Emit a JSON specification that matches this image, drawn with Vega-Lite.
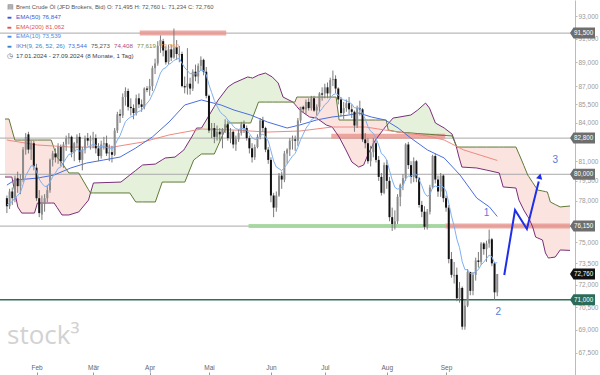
{
"$schema":"https://vega.github.io/schema/vega-lite/v6.json",
"width":575,"height":375,
"autosize":{"type":"none"},
"padding":{"left":0,"top":0,"right":25,"bottom":0},
"background":"white",
"config":{"view":{"stroke":null},"font":"Liberation Sans","axis":{"grid":false}},
"datasets":{
"candles":[
{"i":0,"o":78.2,"h":78.4,"l":77.1,"c":77.6,"e":77.68},
{"i":1,"o":77.6,"h":78.9,"l":77.4,"c":78.7,"e":77.87},
{"i":2,"o":78.7,"h":79.0,"l":77.7,"c":78.2,"e":77.93},
{"i":3,"o":78.1,"h":79.9,"l":77.9,"c":79.7,"e":78.25},
{"i":4,"o":79.7,"h":80.2,"l":78.6,"c":79.1,"e":78.40},
{"i":5,"o":79.1,"h":80.0,"l":78.5,"c":79.6,"e":78.62},
{"i":6,"o":79.6,"h":82.1,"l":79.4,"c":81.9,"e":79.22},
{"i":7,"o":81.9,"h":83.2,"l":81.5,"c":82.9,"e":79.89},
{"i":8,"o":83.1,"h":83.3,"l":81.6,"c":81.9,"e":80.26},
{"i":9,"o":81.9,"h":82.6,"l":81.1,"c":82.4,"e":80.65},
{"i":10,"o":82.4,"h":82.6,"l":80.3,"c":80.6,"e":80.64},
{"i":11,"o":80.5,"h":80.8,"l":78.0,"c":78.2,"e":80.20},
{"i":12,"o":78.2,"h":78.8,"l":76.8,"c":77.1,"e":79.64},
{"i":13,"o":77.0,"h":78.4,"l":76.6,"c":77.8,"e":79.30},
{"i":14,"o":77.8,"h":78.5,"l":77.2,"c":78.2,"e":79.10},
{"i":15,"o":78.2,"h":79.2,"l":77.9,"c":78.8,"e":79.05},
{"i":16,"o":78.8,"h":81.2,"l":78.6,"c":81.1,"e":79.42},
{"i":17,"o":81.1,"h":81.8,"l":80.6,"c":81.6,"e":79.82},
{"i":18,"o":81.6,"h":82.0,"l":80.9,"c":81.3,"e":80.09},
{"i":19,"o":81.3,"h":82.4,"l":80.8,"c":82.1,"e":80.45},
{"i":20,"o":82.1,"h":82.3,"l":80.6,"c":81.0,"e":80.55},
{"i":21,"o":81.0,"h":82.5,"l":80.5,"c":82.3,"e":80.87},
{"i":22,"o":82.3,"h":83.0,"l":81.8,"c":82.8,"e":81.22},
{"i":23,"o":82.8,"h":83.2,"l":82.3,"c":82.9,"e":81.53},
{"i":24,"o":82.9,"h":83.0,"l":81.3,"c":81.7,"e":81.56},
{"i":25,"o":81.7,"h":82.5,"l":81.0,"c":82.4,"e":81.71},
{"i":26,"o":82.4,"h":83.1,"l":82.0,"c":82.9,"e":81.93},
{"i":27,"o":82.9,"h":83.2,"l":80.9,"c":81.1,"e":81.78},
{"i":28,"o":81.1,"h":82.1,"l":80.3,"c":81.9,"e":81.80},
{"i":29,"o":81.9,"h":83.0,"l":81.6,"c":82.8,"e":81.98},
{"i":30,"o":82.8,"h":83.2,"l":82.2,"c":82.6,"e":82.09},
{"i":31,"o":82.6,"h":83.0,"l":81.9,"c":82.7,"e":82.20},
{"i":32,"o":82.7,"h":83.3,"l":82.0,"c":82.8,"e":82.31},
{"i":33,"o":82.8,"h":83.1,"l":81.6,"c":82.0,"e":82.25},
{"i":34,"o":82.0,"h":82.4,"l":81.0,"c":81.4,"e":82.10},
{"i":35,"o":81.4,"h":82.6,"l":81.2,"c":82.3,"e":82.14},
{"i":36,"o":82.3,"h":82.9,"l":81.9,"c":82.4,"e":82.19},
{"i":37,"o":82.4,"h":83.0,"l":81.4,"c":81.6,"e":82.08},
{"i":38,"o":81.6,"h":82.3,"l":81.0,"c":81.7,"e":82.01},
{"i":39,"o":81.7,"h":82.2,"l":80.9,"c":81.5,"e":81.92},
{"i":40,"o":81.5,"h":83.6,"l":81.4,"c":83.4,"e":82.19},
{"i":41,"o":83.4,"h":84.9,"l":83.2,"c":84.7,"e":82.65},
{"i":42,"o":84.7,"h":85.1,"l":84.0,"c":84.6,"e":83.00},
{"i":43,"o":84.6,"h":86.4,"l":84.4,"c":86.1,"e":83.56},
{"i":44,"o":86.1,"h":86.9,"l":85.4,"c":86.6,"e":84.11},
{"i":45,"o":86.6,"h":86.8,"l":85.0,"c":85.3,"e":84.33},
{"i":46,"o":85.3,"h":86.0,"l":84.6,"c":85.2,"e":84.49},
{"i":47,"o":85.2,"h":85.5,"l":84.3,"c":84.8,"e":84.55},
{"i":48,"o":84.8,"h":86.3,"l":84.6,"c":86.0,"e":84.81},
{"i":49,"o":86.0,"h":86.4,"l":85.2,"c":85.5,"e":84.94},
{"i":50,"o":85.5,"h":85.9,"l":84.9,"c":85.3,"e":85.01},
{"i":51,"o":85.3,"h":86.9,"l":85.1,"c":86.8,"e":85.34},
{"i":52,"o":86.8,"h":87.0,"l":86.5,"c":86.7,"e":85.59},
{"i":53,"o":86.7,"h":87.6,"l":86.2,"c":87.0,"e":85.85},
{"i":54,"o":87.0,"h":88.7,"l":86.6,"c":88.5,"e":86.33},
{"i":55,"o":88.5,"h":89.3,"l":88.0,"c":88.9,"e":86.80},
{"i":56,"o":88.9,"h":90.8,"l":88.7,"c":90.4,"e":87.46},
{"i":57,"o":90.4,"h":91.3,"l":89.8,"c":90.9,"e":88.09},
{"i":58,"o":90.8,"h":91.0,"l":89.5,"c":90.0,"e":88.44},
{"i":59,"o":90.0,"h":90.4,"l":88.8,"c":89.0,"e":88.54},
{"i":60,"o":89.0,"h":90.5,"l":88.8,"c":90.1,"e":88.82},
{"i":61,"o":90.1,"h":90.5,"l":89.1,"c":89.4,"e":88.93},
{"i":62,"o":89.4,"h":91.9,"l":89.3,"c":90.2,"e":89.16},
{"i":63,"o":90.3,"h":90.9,"l":89.2,"c":89.7,"e":89.26},
{"i":64,"o":89.6,"h":90.4,"l":89.0,"c":89.7,"e":89.34},
{"i":65,"o":89.7,"h":89.9,"l":86.9,"c":87.0,"e":88.91},
{"i":66,"o":87.0,"h":87.8,"l":86.4,"c":86.9,"e":88.54},
{"i":67,"o":86.9,"h":90.2,"l":86.3,"c":87.2,"e":88.30},
{"i":68,"o":87.2,"h":87.7,"l":86.3,"c":86.8,"e":88.03},
{"i":69,"o":86.8,"h":88.4,"l":86.6,"c":88.2,"e":88.06},
{"i":70,"o":88.2,"h":88.8,"l":87.4,"c":87.8,"e":88.01},
{"i":71,"o":87.8,"h":88.9,"l":87.2,"c":88.7,"e":88.14},
{"i":72,"o":88.7,"h":89.5,"l":88.3,"c":89.2,"e":88.33},
{"i":73,"o":89.2,"h":89.3,"l":87.9,"c":88.2,"e":88.31},
{"i":74,"o":88.2,"h":88.6,"l":86.0,"c":86.2,"e":87.93},
{"i":75,"o":86.2,"h":86.3,"l":83.2,"c":83.4,"e":87.11},
{"i":76,"o":83.4,"h":84.0,"l":82.8,"c":83.6,"e":86.47},
{"i":77,"o":83.6,"h":84.0,"l":82.4,"c":82.9,"e":85.82},
{"i":78,"o":82.9,"h":83.8,"l":82.6,"c":83.3,"e":85.36},
{"i":79,"o":83.3,"h":83.6,"l":82.6,"c":83.1,"e":84.95},
{"i":80,"o":83.1,"h":83.6,"l":82.0,"c":83.5,"e":84.69},
{"i":81,"o":83.5,"h":84.3,"l":83.2,"c":83.9,"e":84.55},
{"i":82,"o":83.9,"h":84.2,"l":82.6,"c":82.8,"e":84.23},
{"i":83,"o":82.8,"h":83.6,"l":82.4,"c":83.3,"e":84.06},
{"i":84,"o":83.3,"h":83.4,"l":82.0,"c":82.3,"e":83.74},
{"i":85,"o":82.3,"h":83.0,"l":81.8,"c":82.7,"e":83.55},
{"i":86,"o":82.7,"h":83.5,"l":82.5,"c":83.2,"e":83.49},
{"i":87,"o":83.2,"h":84.1,"l":83.0,"c":83.9,"e":83.56},
{"i":88,"o":83.9,"h":84.2,"l":83.2,"c":83.6,"e":83.57},
{"i":89,"o":83.6,"h":83.8,"l":82.6,"c":82.8,"e":83.43},
{"i":90,"o":82.8,"h":83.0,"l":81.6,"c":82.0,"e":83.17},
{"i":91,"o":82.0,"h":82.4,"l":80.9,"c":81.3,"e":82.83},
{"i":92,"o":81.3,"h":82.3,"l":81.1,"c":82.1,"e":82.70},
{"i":93,"o":82.1,"h":83.1,"l":82.0,"c":82.9,"e":82.74},
{"i":94,"o":82.9,"h":84.4,"l":82.7,"c":84.2,"e":83.01},
{"i":95,"o":84.2,"h":84.5,"l":83.3,"c":83.6,"e":83.12},
{"i":96,"o":83.6,"h":83.7,"l":81.7,"c":81.9,"e":82.90},
{"i":97,"o":81.9,"h":82.1,"l":80.8,"c":81.1,"e":82.57},
{"i":98,"o":81.1,"h":81.3,"l":77.9,"c":78.4,"e":81.81},
{"i":99,"o":78.4,"h":78.6,"l":76.8,"c":77.5,"e":81.03},
{"i":100,"o":77.5,"h":78.7,"l":77.2,"c":78.4,"e":80.55},
{"i":101,"o":78.4,"h":80.1,"l":78.3,"c":79.9,"e":80.43},
{"i":102,"o":79.9,"h":80.2,"l":78.9,"c":79.6,"e":80.28},
{"i":103,"o":79.6,"h":81.8,"l":79.4,"c":81.6,"e":80.52},
{"i":104,"o":81.6,"h":82.0,"l":80.8,"c":81.9,"e":80.77},
{"i":105,"o":81.9,"h":82.8,"l":81.4,"c":82.6,"e":81.10},
{"i":106,"o":82.6,"h":83.0,"l":81.9,"c":82.7,"e":81.39},
{"i":107,"o":82.7,"h":83.0,"l":81.8,"c":82.6,"e":81.61},
{"i":108,"o":82.6,"h":84.4,"l":82.2,"c":84.2,"e":82.08},
{"i":109,"o":84.2,"h":85.3,"l":84.0,"c":85.3,"e":82.67},
{"i":110,"o":85.3,"h":85.4,"l":84.8,"c":85.1,"e":83.11},
{"i":111,"o":85.1,"h":85.9,"l":84.7,"c":85.7,"e":83.58},
{"i":112,"o":85.7,"h":86.0,"l":85.0,"c":85.2,"e":83.87},
{"i":113,"o":85.2,"h":86.2,"l":85.0,"c":86.0,"e":84.26},
{"i":114,"o":86.0,"h":86.2,"l":84.9,"c":85.0,"e":84.39},
{"i":115,"o":85.0,"h":85.5,"l":84.6,"c":85.3,"e":84.56},
{"i":116,"o":85.3,"h":86.5,"l":84.9,"c":86.4,"e":84.89},
{"i":117,"o":86.4,"h":86.9,"l":85.8,"c":86.3,"e":85.16},
{"i":118,"o":86.4,"h":87.2,"l":86.0,"c":86.9,"e":85.48},
{"i":119,"o":86.9,"h":87.3,"l":86.0,"c":86.4,"e":85.65},
{"i":120,"o":86.4,"h":87.7,"l":86.0,"c":87.5,"e":85.99},
{"i":121,"o":87.5,"h":88.3,"l":87.0,"c":87.6,"e":86.28},
{"i":122,"o":87.6,"h":87.9,"l":86.4,"c":86.8,"e":86.37},
{"i":123,"o":86.8,"h":86.9,"l":85.5,"c":85.9,"e":86.28},
{"i":124,"o":85.9,"h":86.1,"l":84.5,"c":84.8,"e":86.01},
{"i":125,"o":84.8,"h":85.7,"l":84.3,"c":85.2,"e":85.86},
{"i":126,"o":85.2,"h":85.9,"l":84.9,"c":85.6,"e":85.81},
{"i":127,"o":85.6,"h":86.1,"l":84.7,"c":85.1,"e":85.68},
{"i":128,"o":85.1,"h":85.5,"l":84.4,"c":84.9,"e":85.54},
{"i":129,"o":84.9,"h":85.0,"l":83.3,"c":83.8,"e":85.22},
{"i":130,"o":83.8,"h":85.4,"l":83.6,"c":85.2,"e":85.22},
{"i":131,"o":85.2,"h":85.8,"l":84.6,"c":85.1,"e":85.20},
{"i":132,"o":85.1,"h":85.2,"l":82.5,"c":82.7,"e":84.75},
{"i":133,"o":82.7,"h":83.2,"l":82.0,"c":82.4,"e":84.32},
{"i":134,"o":82.4,"h":82.8,"l":80.8,"c":81.0,"e":83.72},
{"i":135,"o":81.0,"h":82.2,"l":80.6,"c":81.7,"e":83.35},
{"i":136,"o":81.7,"h":82.8,"l":81.3,"c":82.4,"e":83.18},
{"i":137,"o":82.4,"h":82.6,"l":80.9,"c":81.1,"e":82.80},
{"i":138,"o":81.1,"h":81.4,"l":79.5,"c":79.8,"e":82.25},
{"i":139,"o":79.8,"h":80.1,"l":78.4,"c":78.6,"e":81.59},
{"i":140,"o":78.6,"h":80.9,"l":78.5,"c":80.7,"e":81.43},
{"i":141,"o":80.7,"h":81.1,"l":78.9,"c":79.5,"e":81.08},
{"i":142,"o":79.5,"h":79.8,"l":76.5,"c":76.8,"e":80.30},
{"i":143,"o":76.8,"h":77.5,"l":75.8,"c":76.3,"e":79.57},
{"i":144,"o":76.3,"h":77.3,"l":75.9,"c":76.5,"e":79.01},
{"i":145,"o":76.5,"h":78.5,"l":76.3,"c":78.3,"e":78.88},
{"i":146,"o":78.3,"h":79.3,"l":77.6,"c":79.2,"e":78.94},
{"i":147,"o":79.2,"h":80.0,"l":78.8,"c":79.7,"e":79.08},
{"i":148,"o":79.7,"h":82.4,"l":79.5,"c":82.3,"e":79.67},
{"i":149,"o":82.3,"h":82.5,"l":80.4,"c":80.7,"e":79.86},
{"i":150,"o":80.7,"h":81.0,"l":79.3,"c":79.8,"e":79.85},
{"i":151,"o":79.8,"h":81.3,"l":79.4,"c":81.0,"e":80.06},
{"i":152,"o":81.0,"h":81.1,"l":79.4,"c":79.7,"e":79.99},
{"i":153,"o":79.7,"h":79.8,"l":77.5,"c":77.7,"e":79.57},
{"i":154,"o":77.7,"h":78.0,"l":76.8,"c":77.2,"e":79.14},
{"i":155,"o":77.2,"h":77.6,"l":75.9,"c":76.1,"e":78.59},
{"i":156,"o":76.1,"h":77.4,"l":75.9,"c":77.2,"e":78.34},
{"i":157,"o":77.2,"h":79.2,"l":77.0,"c":79.0,"e":78.46},
{"i":158,"o":79.0,"h":81.5,"l":78.9,"c":81.4,"e":79.00},
{"i":159,"o":81.4,"h":81.6,"l":79.3,"c":79.6,"e":79.11},
{"i":160,"o":79.6,"h":79.9,"l":78.3,"c":78.7,"e":79.04},
{"i":161,"o":78.7,"h":80.1,"l":78.3,"c":79.9,"e":79.20},
{"i":162,"o":79.9,"h":80.0,"l":77.9,"c":78.2,"e":79.02},
{"i":163,"o":78.2,"h":78.4,"l":77.2,"c":77.5,"e":78.74},
{"i":164,"o":77.5,"h":77.7,"l":73.5,"c":73.8,"e":77.84},
{"i":165,"o":73.8,"h":74.3,"l":72.5,"c":72.7,"e":76.90},
{"i":166,"o":72.6,"h":73.6,"l":72.1,"c":72.7,"e":76.14},
{"i":167,"o":72.7,"h":73.2,"l":70.9,"c":71.1,"e":75.22},
{"i":168,"o":71.1,"h":72.2,"l":70.8,"c":71.8,"e":74.60},
{"i":169,"o":71.8,"h":71.9,"l":69.0,"c":69.2,"e":73.62},
{"i":170,"o":69.2,"h":71.0,"l":69.0,"c":70.6,"e":73.07},
{"i":171,"o":70.6,"h":73.1,"l":70.5,"c":72.9,"e":73.04},
{"i":172,"o":72.9,"h":72.9,"l":71.3,"c":71.6,"e":72.78},
{"i":173,"o":71.6,"h":72.9,"l":71.3,"c":72.7,"e":72.77},
{"i":174,"o":72.7,"h":73.9,"l":72.3,"c":73.7,"e":72.94},
{"i":175,"o":73.7,"h":74.3,"l":73.2,"c":73.6,"e":73.06},
{"i":176,"o":73.6,"h":75.0,"l":73.4,"c":74.9,"e":73.39},
{"i":177,"o":74.9,"h":75.0,"l":74.1,"c":74.5,"e":73.59},
{"i":178,"o":74.5,"h":75.1,"l":73.6,"c":74.9,"e":73.83},
{"i":179,"o":74.9,"h":75.9,"l":74.6,"c":75.2,"e":74.08},
{"i":180,"o":75.2,"h":75.3,"l":73.3,"c":73.5,"e":73.97},
{"i":181,"o":73.5,"h":73.6,"l":71.0,"c":71.5,"e":73.52},
{"i":182,"o":71.495,"h":72.76,"l":71.234,"c":72.76,"e":73.54}
],
"cloud":[
{"i":-0.7,"a":79.79,"b":84.32,"s":"r1","k":"r"},
{"i":0.76,"a":79.79,"b":84.32,"s":"r1","k":"r"},
{"i":1.85,"a":79.79,"b":83.48,"s":"r1","k":"r"},
{"i":2.95,"a":78.66,"b":82.65,"s":"r1","k":"r"},
{"i":4.04,"a":77.55,"b":82.65,"s":"r1","k":"r"},
{"i":5.5,"a":77.10,"b":82.65,"s":"r1","k":"r"},
{"i":10.24,"a":77.10,"b":82.65,"s":"r1","k":"r"},
{"i":11.34,"a":77.84,"b":82.65,"s":"r1","k":"r"},
{"i":16.44,"a":77.84,"b":82.65,"s":"r1","k":"r"},
{"i":17.54,"a":77.84,"b":81.99,"s":"r1","k":"r"},
{"i":18.63,"a":77.51,"b":81.32,"s":"r1","k":"r"},
{"i":20.45,"a":76.96,"b":80.86,"s":"r1","k":"r"},
{"i":23.0,"a":76.96,"b":80.10,"s":"r1","k":"r"},
{"i":26.65,"a":77.18,"b":80.10,"s":"r1","k":"r"},
{"i":30.3,"a":78.06,"b":78.83,"s":"r1","k":"r"},
{"i":31.03,"a":78.59,"b":78.59,"s":"r1","k":"r"},
{"i":31.03,"a":78.59,"b":78.59,"s":"g1","k":"g"},
{"i":32.12,"a":79.34,"b":78.59,"s":"g1","k":"g"},
{"i":42.33,"a":79.41,"b":78.59,"s":"g1","k":"g"},
{"i":45.62,"a":79.94,"b":78.59,"s":"g1","k":"g"},
{"i":47.8,"a":80.29,"b":77.92,"s":"g1","k":"g"},
{"i":50.36,"a":80.71,"b":77.92,"s":"g1","k":"g"},
{"i":55.1,"a":80.78,"b":77.92,"s":"g1","k":"g"},
{"i":57.65,"a":81.11,"b":79.41,"s":"g1","k":"g"},
{"i":58.75,"a":81.25,"b":79.41,"s":"g1","k":"g"},
{"i":62.39,"a":81.32,"b":79.41,"s":"g1","k":"g"},
{"i":65.68,"a":81.87,"b":79.41,"s":"g1","k":"g"},
{"i":66.04,"a":82.00,"b":79.41,"s":"g1","k":"g"},
{"i":68.59,"a":82.89,"b":80.71,"s":"g1","k":"g"},
{"i":69.32,"a":83.17,"b":81.09,"s":"g1","k":"g"},
{"i":70.42,"a":83.60,"b":81.27,"s":"g1","k":"g"},
{"i":72.24,"a":83.60,"b":81.56,"s":"g1","k":"g"},
{"i":76.98,"a":85.32,"b":81.56,"s":"g1","k":"g"},
{"i":78.44,"a":85.86,"b":82.25,"s":"g1","k":"g"},
{"i":82.09,"a":86.93,"b":84.00,"s":"g1","k":"g"},
{"i":84.27,"a":87.26,"b":84.00,"s":"g1","k":"g"},
{"i":89.38,"a":87.76,"b":84.00,"s":"g1","k":"g"},
{"i":90.47,"a":87.71,"b":84.00,"s":"g1","k":"g"},
{"i":91.2,"a":87.67,"b":84.42,"s":"g1","k":"g"},
{"i":93.39,"a":87.92,"b":85.69,"s":"g1","k":"g"},
{"i":95.94,"a":88.09,"b":85.69,"s":"g1","k":"g"},
{"i":98.5,"a":87.76,"b":85.69,"s":"g1","k":"g"},
{"i":100.69,"a":87.26,"b":85.69,"s":"g1","k":"g"},
{"i":102.5,"a":86.10,"b":85.69,"s":"g1","k":"g"},
{"i":106.16,"a":85.69,"b":85.69,"s":"g1","k":"g"},
{"i":106.16,"a":85.69,"b":85.69,"s":"r2","k":"r"},
{"i":106.89,"a":85.51,"b":85.69,"s":"r2","k":"r"},
{"i":107.62,"a":85.32,"b":86.10,"s":"r2","k":"r"},
{"i":108.71,"a":85.04,"b":86.10,"s":"r2","k":"r"},
{"i":112.36,"a":84.48,"b":86.10,"s":"r2","k":"r"},
{"i":114.91,"a":84.40,"b":86.10,"s":"r2","k":"r"},
{"i":118.56,"a":83.84,"b":86.10,"s":"r2","k":"r"},
{"i":120.74,"a":83.68,"b":86.10,"s":"r2","k":"r"},
{"i":122.2,"a":83.23,"b":86.10,"s":"r2","k":"r"},
{"i":123.3,"a":82.89,"b":84.24,"s":"r2","k":"r"},
{"i":125.85,"a":81.87,"b":84.24,"s":"r2","k":"r"},
{"i":128.04,"a":80.94,"b":84.24,"s":"r2","k":"r"},
{"i":130.59,"a":80.55,"b":84.24,"s":"r2","k":"r"},
{"i":132.42,"a":80.71,"b":84.24,"s":"r2","k":"r"},
{"i":134.24,"a":81.63,"b":84.24,"s":"r2","k":"r"},
{"i":136.79,"a":82.65,"b":84.24,"s":"r2","k":"r"},
{"i":140.44,"a":83.68,"b":84.24,"s":"r2","k":"r"},
{"i":140.8,"a":83.77,"b":84.24,"s":"r2","k":"r"},
{"i":141.17,"a":83.84,"b":83.84,"s":"r2","k":"r"},
{"i":141.17,"a":83.84,"b":83.84,"s":"g2","k":"g"},
{"i":141.53,"a":83.95,"b":83.44,"s":"g2","k":"g"},
{"i":143.36,"a":84.40,"b":83.36,"s":"g2","k":"g"},
{"i":145.18,"a":84.46,"b":83.28,"s":"g2","k":"g"},
{"i":149.92,"a":84.64,"b":83.21,"s":"g2","k":"g"},
{"i":152.47,"a":85.04,"b":83.16,"s":"g2","k":"g"},
{"i":155.39,"a":85.61,"b":83.12,"s":"g2","k":"g"},
{"i":156.85,"a":85.20,"b":83.10,"s":"g2","k":"g"},
{"i":159.04,"a":84.00,"b":83.06,"s":"g2","k":"g"},
{"i":162.32,"a":83.60,"b":83.01,"s":"g2","k":"g"},
{"i":165.24,"a":83.12,"b":82.97,"s":"g2","k":"g"},
{"i":166.52,"a":82.34,"b":82.34,"s":"g2","k":"g"},
{"i":166.52,"a":82.34,"b":82.34,"s":"r3","k":"r"},
{"i":167.06,"a":81.92,"b":82.10,"s":"r3","k":"r"},
{"i":167.79,"a":81.32,"b":82.10,"s":"r3","k":"r"},
{"i":168.88,"a":80.55,"b":82.10,"s":"r3","k":"r"},
{"i":174.35,"a":80.48,"b":82.10,"s":"r3","k":"r"},
{"i":178.0,"a":80.32,"b":82.10,"s":"r3","k":"r"},
{"i":182.74,"a":80.10,"b":82.10,"s":"r3","k":"r"},
{"i":184.2,"a":79.04,"b":82.10,"s":"r3","k":"r"},
{"i":188.94,"a":78.96,"b":82.10,"s":"r3","k":"r"},
{"i":190.04,"a":78.06,"b":81.57,"s":"r3","k":"r"},
{"i":191.5,"a":77.47,"b":80.86,"s":"r3","k":"r"},
{"i":191.86,"a":77.32,"b":80.67,"s":"r3","k":"r"},
{"i":193.32,"a":76.84,"b":79.94,"s":"r3","k":"r"},
{"i":193.69,"a":76.74,"b":79.83,"s":"r3","k":"r"},
{"i":195.15,"a":76.09,"b":79.37,"s":"r3","k":"r"},
{"i":196.24,"a":75.36,"b":79.04,"s":"r3","k":"r"},
{"i":196.97,"a":75.30,"b":78.81,"s":"r3","k":"r"},
{"i":198.79,"a":75.15,"b":78.74,"s":"r3","k":"r"},
{"i":199.88,"a":74.23,"b":78.69,"s":"r3","k":"r"},
{"i":200.61,"a":73.99,"b":78.66,"s":"r3","k":"r"},
{"i":200.98,"a":73.87,"b":78.41,"s":"r3","k":"r"},
{"i":201.7,"a":73.89,"b":77.92,"s":"r3","k":"r"},
{"i":203.53,"a":73.94,"b":77.73,"s":"r3","k":"r"},
{"i":205.35,"a":74.44,"b":77.55,"s":"r3","k":"r"},
{"i":209.0,"a":74.41,"b":77.62,"s":"r3","k":"r"}
],
"ema50":[
{"i":0,"v":79.18},{"i":2.95,"v":79.56},{"i":11.3,"v":79.71},{"i":17.5,"v":79.94},{"i":23.7,"v":80.48},{"i":29.6,"v":80.86},{"i":35.8,"v":81.09},{"i":42.0,"v":81.32},{"i":47.8,"v":82.02},{"i":54.0,"v":82.89},{"i":60.2,"v":84.08},{"i":66.0,"v":85.45},{"i":72.2,"v":85.86},{"i":79.5,"v":85.45},{"i":84.3,"v":85.04},{"i":90.5,"v":84.64},{"i":96.7,"v":84.08},{"i":104.0,"v":83.60},{"i":108.7,"v":83.84},{"i":114.9,"v":84.24},{"i":120.7,"v":84.48},{"i":126.9,"v":84.64},{"i":130.6,"v":84.80},{"i":135.3,"v":84.48},{"i":140.4,"v":84.24},{"i":145.2,"v":83.60},{"i":149.9,"v":82.81},{"i":156.1,"v":81.87},{"i":162.3,"v":81.25},{"i":168.2,"v":79.94},{"i":174.4,"v":78.21},{"i":179.1,"v":77.55},{"i":182,"v":76.85}
],
"ema200":[
{"i":0,"v":82.65},{"i":11.3,"v":82.26},{"i":23.7,"v":82.10},{"i":39.4,"v":82.10},{"i":50.4,"v":82.49},{"i":60.2,"v":83.05},{"i":72.2,"v":83.52},{"i":84.3,"v":83.44},{"i":96.7,"v":83.28},{"i":108.7,"v":83.36},{"i":120.7,"v":83.68},{"i":133.1,"v":83.68},{"i":145.2,"v":83.28},{"i":156.1,"v":82.97},{"i":162.3,"v":82.65},{"i":169.6,"v":81.87},{"i":182,"v":81.06}
],
"levels":[
{"p":91.5,"k":"g"},{"p":82.8,"k":"g"},{"p":80.0,"k":"g"},{"p":76.15,"k":"g"},{"p":71.0,"k":"t"}
],
"bands":[
{"p":91.5,"x1":49.3,"x2":81.4,"k":"r"},
{"p":82.95,"x1":120.4,"x2":162.7,"k":"r"},
{"p":76.15,"x1":89.7,"x2":162.7,"k":"g"},
{"p":76.15,"x1":162.7,"x2":209,"k":"r"}
],
"arrow":[
{"i":184.6,"p":72.69,"o":1},{"i":188.6,"p":77.32,"o":2},{"i":193.0,"p":75.94,"o":3},{"i":197.4,"p":79.45,"o":4}
],
"arrowhead":[{"i":197.8,"p":79.85}],
"numbers":[
{"t":"1","i":178.0,"p":77.1},{"t":"2","i":182.4,"p":70.18},{"t":"3","i":203.5,"p":81.09}
],
"tags":[
{"p":91.5,"t":"91,500","k":"g"},{"p":82.8,"t":"82,800","k":"g"},{"p":80.0,"t":"80,000","k":"g"},{"p":76.15,"t":"76,150","k":"g"},{"p":72.76,"t":"72,760","k":"b"},{"p":71.0,"t":"71,000","k":"t"}
]
},
"layer":[
{"data":{"name":"cloud"},"transform":[{"filter":"datum.k=='g'"}],
 "mark":{"type":"area","orient":"vertical","color":"#e6f1dc","opacity":1},
 "encoding":{
  "x":{"field":"i","type":"quantitative","title":null,"scale":{"domain":[-0.7,209],"nice":false,"zero":false},
   "axis":{"orient":"bottom","values":[11,32,53,75,98,118,141,163],"labelExpr":"['Feb','Mär','Apr','Mai','Jun','Jul','Aug','Sep'][indexof([11,32,53,75,98,118,141,163], datum.value)]","grid":false,"tickSize":-3,"labelPadding":-8,"labelFontSize":6.5,"labelColor":"#666666","tickColor":"#999999","domainColor":"#999999","title":null,"labelFont":"Liberation Sans"}},
  "y":{"field":"a","type":"quantitative","title":null,"scale":{"type":"log","domain":[66.09,94.43],"nice":false,"zero":false},
   "axis":{"orient":"right","values":[67.5,69,70.5,72,73.5,75,78,79.5,81,84,85.5,87,89,91,93],"labelExpr":"replace(format(datum.value,'.3f'),'.',',')","grid":false,"tickSize":2,"labelPadding":1,"labelFontSize":6.5,"labelColor":"#9a9a9a","tickColor":"#bbbbbb","domainColor":"#bbbbbb","labelOverlap":false,"title":null,"labelFont":"Liberation Sans"}},
  "y2":{"field":"b"},
  "detail":{"field":"s"}}},
{"data":{"name":"cloud"},"transform":[{"filter":"datum.k=='r'"}],
 "mark":{"type":"area","orient":"vertical","color":"#fbe3df","opacity":1},
 "encoding":{
  "x":{"field":"i","type":"quantitative","title":null,"scale":{"domain":[-0.7,209],"nice":false,"zero":false}},
  "y":{"field":"a","type":"quantitative","title":null,"scale":{"type":"log","domain":[66.09,94.43],"nice":false,"zero":false}},
  "y2":{"field":"b"},
  "detail":{"field":"s"}}},
{"data":{"name":"levels"},"transform":[{"filter":"datum.k=='g'"}],
 "mark":{"type":"rule","color":"#a8a8a8","strokeWidth":1},
 "encoding":{"y":{"field":"p","type":"quantitative","title":null,"scale":{"type":"log","domain":[66.09,94.43],"nice":false,"zero":false}}}},
{"data":{"name":"levels"},"transform":[{"filter":"datum.k=='t'"}],
 "mark":{"type":"rule","color":"#2f6d5d","strokeWidth":1.6},
 "encoding":{"y":{"field":"p","type":"quantitative","title":null,"scale":{"type":"log","domain":[66.09,94.43],"nice":false,"zero":false}}}},
{"data":{"name":"bands"},"transform":[{"filter":"datum.k=='r'"}],
 "mark":{"type":"rule","color":"#e8948c","strokeWidth":5,"opacity":0.8},
 "encoding":{
  "x":{"field":"x1","type":"quantitative","title":null,"scale":{"domain":[-0.7,209],"nice":false,"zero":false}},
  "x2":{"field":"x2"},
  "y":{"field":"p","type":"quantitative","title":null,"scale":{"type":"log","domain":[66.09,94.43],"nice":false,"zero":false}}}},
{"data":{"name":"bands"},"transform":[{"filter":"datum.k=='g'"}],
 "mark":{"type":"rule","color":"#a3d69c","strokeWidth":4,"opacity":0.9},
 "encoding":{
  "x":{"field":"x1","type":"quantitative","title":null,"scale":{"domain":[-0.7,209],"nice":false,"zero":false}},
  "x2":{"field":"x2"},
  "y":{"field":"p","type":"quantitative","title":null,"scale":{"type":"log","domain":[66.09,94.43],"nice":false,"zero":false}}}},
{"data":{"name":"cloud"},
 "mark":{"type":"line","color":"#7a2e7a","strokeWidth":1},
 "encoding":{
  "x":{"field":"i","type":"quantitative","title":null,"scale":{"domain":[-0.7,209],"nice":false,"zero":false}},
  "y":{"field":"a","type":"quantitative","title":null,"scale":{"type":"log","domain":[66.09,94.43],"nice":false,"zero":false}}}},
{"data":{"name":"cloud"},
 "mark":{"type":"line","color":"#5f7a36","strokeWidth":1},
 "encoding":{
  "x":{"field":"i","type":"quantitative","title":null,"scale":{"domain":[-0.7,209],"nice":false,"zero":false}},
  "y":{"field":"b","type":"quantitative","title":null,"scale":{"type":"log","domain":[66.09,94.43],"nice":false,"zero":false}}}},
{"data":{"name":"ema200"},
 "mark":{"type":"line","color":"#f08a80","strokeWidth":1},
 "encoding":{
  "x":{"field":"i","type":"quantitative","title":null,"scale":{"domain":[-0.7,209],"nice":false,"zero":false}},
  "y":{"field":"v","type":"quantitative","title":null,"scale":{"type":"log","domain":[66.09,94.43],"nice":false,"zero":false}}}},
{"data":{"name":"ema50"},
 "mark":{"type":"line","color":"#4a6ee0","strokeWidth":1},
 "encoding":{
  "x":{"field":"i","type":"quantitative","title":null,"scale":{"domain":[-0.7,209],"nice":false,"zero":false}},
  "y":{"field":"v","type":"quantitative","title":null,"scale":{"type":"log","domain":[66.09,94.43],"nice":false,"zero":false}}}},
{"data":{"name":"candles"},
 "mark":{"type":"rule","color":"#7a7a7a","strokeWidth":1},
 "encoding":{
  "x":{"field":"i","type":"quantitative","title":null,"scale":{"domain":[-0.7,209],"nice":false,"zero":false}},
  "y":{"field":"l","type":"quantitative","title":null,"scale":{"type":"log","domain":[66.09,94.43],"nice":false,"zero":false}},
  "y2":{"field":"h"}}},
{"data":{"name":"candles"},
 "mark":{"type":"bar","size":2},
 "encoding":{
  "x":{"field":"i","type":"quantitative","title":null,"scale":{"domain":[-0.7,209],"nice":false,"zero":false}},
  "y":{"field":"o","type":"quantitative","title":null,"scale":{"type":"log","domain":[66.09,94.43],"nice":false,"zero":false}},
  "y2":{"field":"c"},
  "color":{"condition":{"test":"datum.o > datum.c","value":"#111111"},"value":"#8c8c8c"}}},
{"data":{"name":"candles"},
 "mark":{"type":"line","color":"#7fb0f0","strokeWidth":1},
 "encoding":{
  "x":{"field":"i","type":"quantitative","title":null,"scale":{"domain":[-0.7,209],"nice":false,"zero":false}},
  "y":{"field":"e","type":"quantitative","title":null,"scale":{"type":"log","domain":[66.09,94.43],"nice":false,"zero":false}}}},
{"data":{"name":"arrow"},
 "mark":{"type":"line","color":"#1f2fe8","strokeWidth":2},
 "encoding":{
  "x":{"field":"i","type":"quantitative","title":null,"scale":{"domain":[-0.7,209],"nice":false,"zero":false}},
  "y":{"field":"p","type":"quantitative","title":null,"scale":{"type":"log","domain":[66.09,94.43],"nice":false,"zero":false}},
  "order":{"field":"o"}}},
{"data":{"name":"arrowhead"},
 "mark":{"type":"point","shape":"triangle-up","filled":true,"size":40,"angle":14,"color":"#1f2fe8","opacity":1},
 "encoding":{
  "x":{"field":"i","type":"quantitative","title":null,"scale":{"domain":[-0.7,209],"nice":false,"zero":false}},
  "y":{"field":"p","type":"quantitative","title":null,"scale":{"type":"log","domain":[66.09,94.43],"nice":false,"zero":false}}}},
{"data":{"name":"numbers"},
 "mark":{"type":"text","fontSize":10,"color":"#5a78d8","font":"Liberation Sans"},
 "encoding":{
  "x":{"field":"i","type":"quantitative","title":null,"scale":{"domain":[-0.7,209],"nice":false,"zero":false}},
  "y":{"field":"p","type":"quantitative","title":null,"scale":{"type":"log","domain":[66.09,94.43],"nice":false,"zero":false}},
  "text":{"field":"t"}}},
{"data":{"name":"tags"},"transform":[{"filter":"datum.k=='g'"}],
 "mark":{"type":"point","shape":"M -1 0 L -0.72 -0.44 L 1 -0.44 L 1 0.44 L -0.72 0.44 Z","size":625,"filled":true,"opacity":1,"color":"#6e6e6e","xOffset":12.5},
 "encoding":{
  "x":{"datum":209,"type":"quantitative","scale":{"domain":[-0.7,209],"nice":false,"zero":false}},
  "y":{"field":"p","type":"quantitative","title":null,"scale":{"type":"log","domain":[66.09,94.43],"nice":false,"zero":false}}}},
{"data":{"name":"tags"},"transform":[{"filter":"datum.k=='b'"}],
 "mark":{"type":"point","shape":"M -1 0 L -0.72 -0.44 L 1 -0.44 L 1 0.44 L -0.72 0.44 Z","size":625,"filled":true,"opacity":1,"color":"#111111","xOffset":12.5},
 "encoding":{
  "x":{"datum":209,"type":"quantitative","scale":{"domain":[-0.7,209],"nice":false,"zero":false}},
  "y":{"field":"p","type":"quantitative","title":null,"scale":{"type":"log","domain":[66.09,94.43],"nice":false,"zero":false}}}},
{"data":{"name":"tags"},"transform":[{"filter":"datum.k=='t'"}],
 "mark":{"type":"point","shape":"M -1 0 L -0.72 -0.44 L 1 -0.44 L 1 0.44 L -0.72 0.44 Z","size":625,"filled":true,"opacity":1,"color":"#2b6b5a","xOffset":12.5},
 "encoding":{
  "x":{"datum":209,"type":"quantitative","scale":{"domain":[-0.7,209],"nice":false,"zero":false}},
  "y":{"field":"p","type":"quantitative","title":null,"scale":{"type":"log","domain":[66.09,94.43],"nice":false,"zero":false}}}},
{"data":{"name":"tags"},
 "mark":{"type":"text","fontSize":6.3,"color":"#ffffff","align":"center","baseline":"middle","xOffset":13.5,"font":"Liberation Sans"},
 "encoding":{
  "x":{"datum":209,"type":"quantitative","scale":{"domain":[-0.7,209],"nice":false,"zero":false}},
  "y":{"field":"p","type":"quantitative","title":null,"scale":{"type":"log","domain":[66.09,94.43],"nice":false,"zero":false}},
  "text":{"field":"t"}}},
{"data":{"values":[{"t":"Brent Crude Öl (JFD Brokers, Bid)  O: 71,495  H: 72,760  L: 71,234  C: 72,760"}]},
 "mark":{"type":"text","align":"left","baseline":"middle","dx":11,"dy":7,"fontSize":5.9,"color":"#555555","font":"Liberation Sans"},
 "encoding":{"x":{"datum":-0.7,"type":"quantitative","scale":{"domain":[-0.7,209],"nice":false,"zero":false}},"y":{"datum":94.43,"type":"quantitative","scale":{"type":"log","domain":[66.09,94.43],"nice":false,"zero":false}},"text":{"field":"t"}}},
{"data":{"values":[{"t":"▤"}]},
 "mark":{"type":"text","align":"left","baseline":"middle","dx":2,"dy":7,"fontSize":7,"color":"#777777","font":"DejaVu Sans"},
 "encoding":{"x":{"datum":-0.7,"type":"quantitative","scale":{"domain":[-0.7,209],"nice":false,"zero":false}},"y":{"datum":94.43,"type":"quantitative","scale":{"type":"log","domain":[66.09,94.43],"nice":false,"zero":false}},"text":{"field":"t"}}},
{"data":{"values":[{"t":"▬"}]},
 "mark":{"type":"text","align":"left","baseline":"middle","dx":2,"dy":17,"fontSize":5,"color":"#3a5bd9","font":"DejaVu Sans"},
 "encoding":{"x":{"datum":-0.7,"type":"quantitative","scale":{"domain":[-0.7,209],"nice":false,"zero":false}},"y":{"datum":94.43,"type":"quantitative","scale":{"type":"log","domain":[66.09,94.43],"nice":false,"zero":false}},"text":{"field":"t"}}},
{"data":{"values":[{"t":"EMA(50) 76,847"}]},
 "mark":{"type":"text","align":"left","baseline":"middle","dx":11,"dy":17,"fontSize":6.2,"color":"#3a5bd9","font":"Liberation Sans"},
 "encoding":{"x":{"datum":-0.7,"type":"quantitative","scale":{"domain":[-0.7,209],"nice":false,"zero":false}},"y":{"datum":94.43,"type":"quantitative","scale":{"type":"log","domain":[66.09,94.43],"nice":false,"zero":false}},"text":{"field":"t"}}},
{"data":{"values":[{"t":"▬"}]},
 "mark":{"type":"text","align":"left","baseline":"middle","dx":2,"dy":27,"fontSize":5,"color":"#e05555","font":"DejaVu Sans"},
 "encoding":{"x":{"datum":-0.7,"type":"quantitative","scale":{"domain":[-0.7,209],"nice":false,"zero":false}},"y":{"datum":94.43,"type":"quantitative","scale":{"type":"log","domain":[66.09,94.43],"nice":false,"zero":false}},"text":{"field":"t"}}},
{"data":{"values":[{"t":"EMA(200) 81,062"}]},
 "mark":{"type":"text","align":"left","baseline":"middle","dx":11,"dy":27,"fontSize":6.2,"color":"#e05555","font":"Liberation Sans"},
 "encoding":{"x":{"datum":-0.7,"type":"quantitative","scale":{"domain":[-0.7,209],"nice":false,"zero":false}},"y":{"datum":94.43,"type":"quantitative","scale":{"type":"log","domain":[66.09,94.43],"nice":false,"zero":false}},"text":{"field":"t"}}},
{"data":{"values":[{"t":"▬"}]},
 "mark":{"type":"text","align":"left","baseline":"middle","dx":2,"dy":36,"fontSize":5,"color":"#4d8fe6","font":"DejaVu Sans"},
 "encoding":{"x":{"datum":-0.7,"type":"quantitative","scale":{"domain":[-0.7,209],"nice":false,"zero":false}},"y":{"datum":94.43,"type":"quantitative","scale":{"type":"log","domain":[66.09,94.43],"nice":false,"zero":false}},"text":{"field":"t"}}},
{"data":{"values":[{"t":"EMA(10) 73,539"}]},
 "mark":{"type":"text","align":"left","baseline":"middle","dx":11,"dy":36,"fontSize":6.2,"color":"#4d8fe6","font":"Liberation Sans"},
 "encoding":{"x":{"datum":-0.7,"type":"quantitative","scale":{"domain":[-0.7,209],"nice":false,"zero":false}},"y":{"datum":94.43,"type":"quantitative","scale":{"type":"log","domain":[66.09,94.43],"nice":false,"zero":false}},"text":{"field":"t"}}},
{"data":{"values":[{"t":"▬"}]},
 "mark":{"type":"text","align":"left","baseline":"middle","dx":2,"dy":46,"fontSize":5,"color":"#3d86c6","font":"DejaVu Sans"},
 "encoding":{"x":{"datum":-0.7,"type":"quantitative","scale":{"domain":[-0.7,209],"nice":false,"zero":false}},"y":{"datum":94.43,"type":"quantitative","scale":{"type":"log","domain":[66.09,94.43],"nice":false,"zero":false}},"text":{"field":"t"}}},
{"data":{"values":[{"t":"IKH(9, 26, 52, 26)"}]},
 "mark":{"type":"text","align":"left","baseline":"middle","dx":11,"dy":46,"fontSize":6.2,"color":"#3d86c6","font":"Liberation Sans"},
 "encoding":{"x":{"datum":-0.7,"type":"quantitative","scale":{"domain":[-0.7,209],"nice":false,"zero":false}},"y":{"datum":94.43,"type":"quantitative","scale":{"type":"log","domain":[66.09,94.43],"nice":false,"zero":false}},"text":{"field":"t"}}},
{"data":{"values":[{"t":"73,544"}]},
 "mark":{"type":"text","align":"left","baseline":"middle","dx":63,"dy":46,"fontSize":6.2,"color":"#4a72d4","font":"Liberation Sans"},
 "encoding":{"x":{"datum":-0.7,"type":"quantitative","scale":{"domain":[-0.7,209],"nice":false,"zero":false}},"y":{"datum":94.43,"type":"quantitative","scale":{"type":"log","domain":[66.09,94.43],"nice":false,"zero":false}},"text":{"field":"t"}}},
{"data":{"values":[{"t":"75,273"}]},
 "mark":{"type":"text","align":"left","baseline":"middle","dx":86,"dy":46,"fontSize":6.2,"color":"#555555","font":"Liberation Sans"},
 "encoding":{"x":{"datum":-0.7,"type":"quantitative","scale":{"domain":[-0.7,209],"nice":false,"zero":false}},"y":{"datum":94.43,"type":"quantitative","scale":{"type":"log","domain":[66.09,94.43],"nice":false,"zero":false}},"text":{"field":"t"}}},
{"data":{"values":[{"t":"74,408"}]},
 "mark":{"type":"text","align":"left","baseline":"middle","dx":109,"dy":46,"fontSize":6.2,"color":"#a8507a","font":"Liberation Sans"},
 "encoding":{"x":{"datum":-0.7,"type":"quantitative","scale":{"domain":[-0.7,209],"nice":false,"zero":false}},"y":{"datum":94.43,"type":"quantitative","scale":{"type":"log","domain":[66.09,94.43],"nice":false,"zero":false}},"text":{"field":"t"}}},
{"data":{"values":[{"t":"77,619"}]},
 "mark":{"type":"text","align":"left","baseline":"middle","dx":132,"dy":46,"fontSize":6.2,"color":"#7c8c4c","font":"Liberation Sans"},
 "encoding":{"x":{"datum":-0.7,"type":"quantitative","scale":{"domain":[-0.7,209],"nice":false,"zero":false}},"y":{"datum":94.43,"type":"quantitative","scale":{"type":"log","domain":[66.09,94.43],"nice":false,"zero":false}},"text":{"field":"t"}}},
{"data":{"values":[{"t":"72,760"}]},
 "mark":{"type":"text","align":"left","baseline":"middle","dx":155,"dy":46,"fontSize":6.2,"color":"#e39a5a","font":"Liberation Sans"},
 "encoding":{"x":{"datum":-0.7,"type":"quantitative","scale":{"domain":[-0.7,209],"nice":false,"zero":false}},"y":{"datum":94.43,"type":"quantitative","scale":{"type":"log","domain":[66.09,94.43],"nice":false,"zero":false}},"text":{"field":"t"}}},
{"data":{"values":[{"t":"◷"}]},
 "mark":{"type":"text","align":"left","baseline":"middle","dx":2,"dy":56,"fontSize":7,"color":"#555555","font":"DejaVu Sans"},
 "encoding":{"x":{"datum":-0.7,"type":"quantitative","scale":{"domain":[-0.7,209],"nice":false,"zero":false}},"y":{"datum":94.43,"type":"quantitative","scale":{"type":"log","domain":[66.09,94.43],"nice":false,"zero":false}},"text":{"field":"t"}}},
{"data":{"values":[{"t":"17.01.2024 - 27.09.2024  (8 Monate, 1 Tag)"}]},
 "mark":{"type":"text","align":"left","baseline":"middle","dx":11,"dy":56,"fontSize":6.2,"color":"#444444","font":"Liberation Sans"},
 "encoding":{"x":{"datum":-0.7,"type":"quantitative","scale":{"domain":[-0.7,209],"nice":false,"zero":false}},"y":{"datum":94.43,"type":"quantitative","scale":{"type":"log","domain":[66.09,94.43],"nice":false,"zero":false}},"text":{"field":"t"}}},
{"data":{"values":[{"t":"stock³"}]},
 "mark":{"type":"text","align":"left","baseline":"alphabetic","dx":2,"dy":-31,"fontSize":26,"color":"#d2d2d2","font":"Open Sans"},
 "encoding":{"x":{"datum":-0.7,"type":"quantitative","scale":{"domain":[-0.7,209],"nice":false,"zero":false}},"y":{"datum":66.09,"type":"quantitative","scale":{"type":"log","domain":[66.09,94.43],"nice":false,"zero":false}},"text":{"field":"t"}}}
]
}
